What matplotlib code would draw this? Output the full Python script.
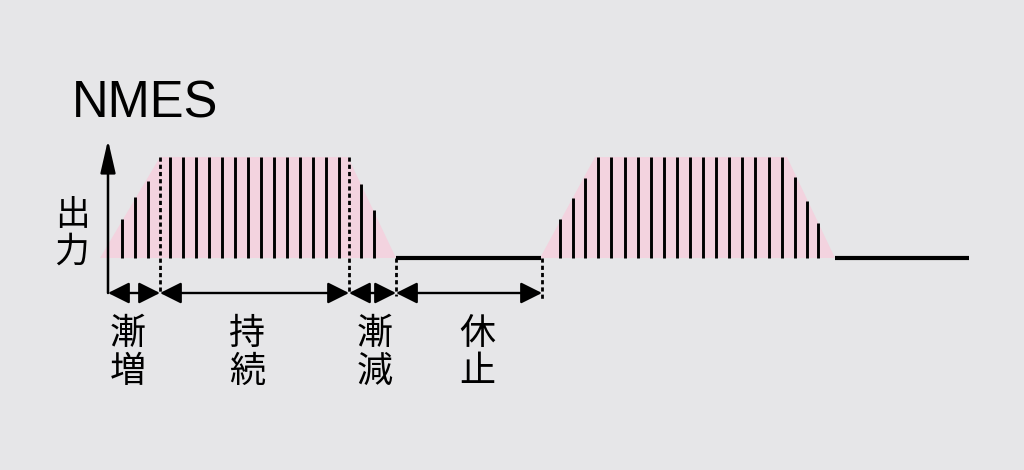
import numpy as np
import matplotlib
matplotlib.use("Agg")
import matplotlib.pyplot as plt
from matplotlib.patches import Polygon

plt.rcParams['font.family'] = ['Noto Sans CJK JP', 'DejaVu Sans']

# time axis (arbitrary units along the chart), amplitude 0 = rest, 1 = full output
pulse1_t = [122, 135, 148, 170, 183, 196, 209, 222, 235, 248, 261, 274, 287,
            300, 313, 326, 339, 361, 374]
pulse1_amp = [0.39, 0.60, 0.76, 1, 1, 1, 1, 1, 1, 1, 1, 1, 1,
              1, 1, 1, 1, 0.73, 0.48]
pulse2_t = [560, 573, 585, 598, 611, 625, 638, 651, 664, 677, 690, 703, 716,
            729, 742, 755, 769, 782, 795, 807, 818]
pulse2_amp = [0.39, 0.59, 0.79, 1, 1, 1, 1, 1, 1, 1, 1, 1, 1,
              1, 1, 1, 1, 1, 0.80, 0.56, 0.35]

# envelope of each stimulation block (start, full, end of full, end)
env1_t = [100, 160, 348, 396]
env2_t = [540, 595, 787, 835]
env_amp = [0, 1, 1, 0]

# rest periods
rest_t = [(396, 541), (835, 969)]

# phase boundaries and labels
phase_edges = [108, 160, 349, 396, 542]
phase_labels = ["漸増", "持続", "漸減", "休止"]
phase_centers = [128, 247, 375, 477]

bg = "#e6e6e8"
pink = "#f3d3df"

fig = plt.figure(figsize=(10.24, 4.70), dpi=100, facecolor=bg)
ax = fig.add_axes([0, 0, 1, 1])
ax.set_facecolor(bg)
ax.set_xlim(0, 1024)
# pixel 258 -> 0, pixel 157 -> 1
ax.set_ylim((258 - 470) / 101, 258 / 101)
ax.axis("off")

for et in (env1_t, env2_t):
    ax.add_patch(Polygon(list(zip(et, env_amp)), closed=True,
                         facecolor=pink, edgecolor="none", zorder=1))

ax.vlines(pulse1_t, 0, pulse1_amp, color="black", lw=2.1, zorder=3)
ax.vlines(pulse2_t, 0, pulse2_amp, color="black", lw=2.1, zorder=3)

for a, b in rest_t:
    ax.plot([a, b], [0, 0], color="black", lw=3.0, solid_capstyle="butt", zorder=3)

arrow_y = (258 - 293) / 101
dots = dict(color="black", lw=2.0, linestyle=(0, (1.5, 1.1)), zorder=3)
ax.plot([phase_edges[1]] * 2, [1, arrow_y], **dots)
ax.plot([phase_edges[2]] * 2, [1, arrow_y], **dots)
ax.plot([phase_edges[3]] * 2, [0, arrow_y - 0.03], **dots)
ax.plot([phase_edges[4]] * 2, [0, arrow_y - 0.06], **dots)

# y axis with arrow
ax.annotate("", xy=(108, (258 - 140) / 101), xytext=(108, arrow_y),
            arrowprops=dict(arrowstyle="-|>,head_length=1.0,head_width=0.23",
                            mutation_scale=20, lw=1.8, color="black",
                            shrinkA=0, shrinkB=0), zorder=4)

for a, b in zip(phase_edges[:-1], phase_edges[1:]):
    ax.annotate("", xy=(b, arrow_y), xytext=(a, arrow_y),
                arrowprops=dict(arrowstyle="<|-|>,head_length=1.0,head_width=0.5",
                                mutation_scale=13, lw=1.7, color="black",
                                shrinkA=0, shrinkB=0), zorder=4)

for cx, lab in zip(phase_centers, phase_labels):
    ax.text(cx, (258 - 334) / 101, lab[0], fontsize=26, ha="center", va="center")
    ax.text(cx, (258 - 372) / 101, lab[1], fontsize=26, ha="center", va="center")

ax.text(72, (258 - 215) / 101, "出", fontsize=25, ha="center", va="center")
ax.text(72, (258 - 252) / 101, "力", fontsize=25, ha="center", va="center")

ax.text(72, (258 - 118) / 101, "NMES", fontsize=36.5, ha="left", va="baseline",
        family=["Liberation Sans", "DejaVu Sans"])

fig.savefig("out.png", dpi=100, facecolor=bg)
